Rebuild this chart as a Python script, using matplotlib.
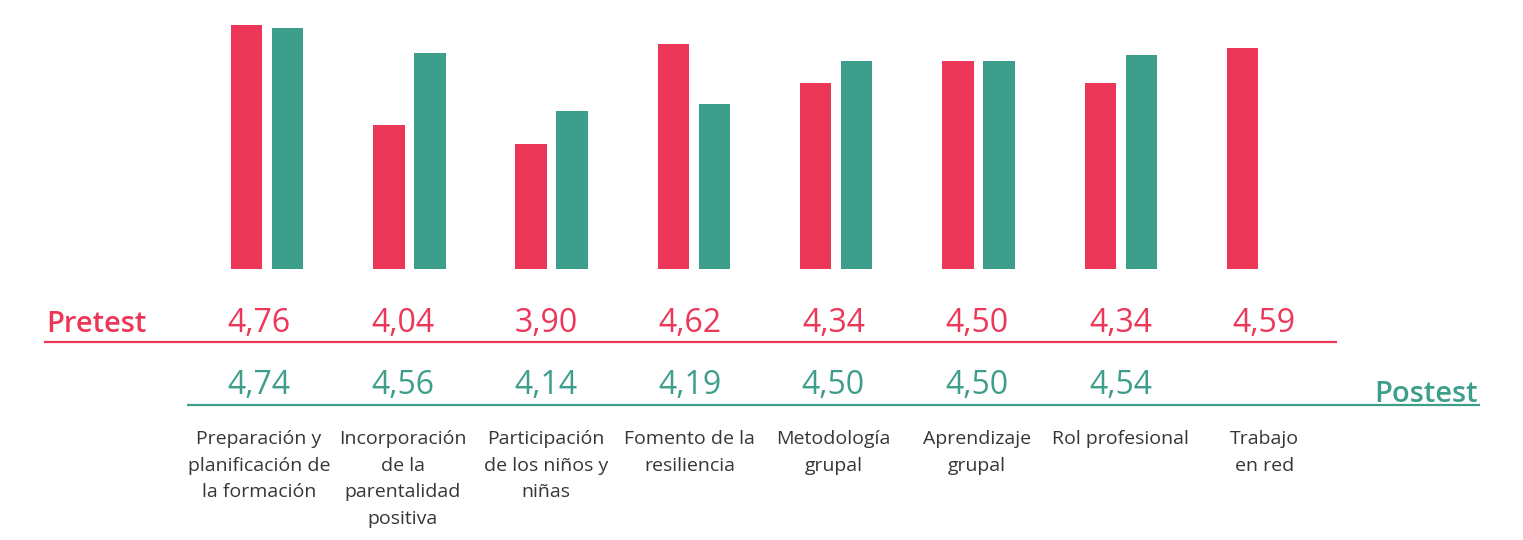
import matplotlib.pyplot as plt

# data
categories = [
    "Preparación y\nplanificación de\nla formación",
    "Incorporación\nde la\nparentalidad\npositiva",
    "Participación\nde los niños y\nniñas",
    "Fomento de la\nresiliencia",
    "Metodología\ngrupal",
    "Aprendizaje\ngrupal",
    "Rol profesional",
    "Trabajo\nen red",
]
pretest = [4.76, 4.04, 3.90, 4.62, 4.34, 4.50, 4.34, 4.59]
postest = [4.74, 4.56, 4.14, 4.19, 4.50, 4.50, 4.54, None]

PINK = "#EC3758"
GREEN = "#3E9E8C"
GREY = "#363636"
FONT = "Open Sans"

W, H = 1523, 540
fig = plt.figure(figsize=(W / 100, H / 100), dpi=100)

# bar area (pixels measured from top of the figure)
base_px = 269.3
px_per_unit = 138.9
step_px = 142.3
first_px = 267
ax = fig.add_axes([0, (H - base_px) / H, 1, base_px / H])
ax.set_xlim(-first_px / step_px, (W - first_px) / step_px)
ax.set_ylim(3.0, 3.0 + base_px / px_per_unit)
ax.axis("off")

bw = 31.5 / step_px
off = 20.5 / step_px
for i, (a, b) in enumerate(zip(pretest, postest)):
    ax.bar(i - off, a - 3.0, bw, bottom=3.0, color=PINK)
    if b is not None:
        ax.bar(i + off, b - 3.0, bw, bottom=3.0, color=GREEN)

# table-like area below, in pixel layout coords
lay = fig.add_axes([0, 0, 1, 1])
lay.set_xlim(0, W)
lay.set_ylim(H, 0)
lay.axis("off")
lay.patch.set_alpha(0)

def fmt(v):
    return f"{v:.2f}".replace(".", ",")

label_x0, label_step = 259, 143.6
for i in range(len(categories)):
    x = label_x0 + label_step * i
    lay.text(x, 332, fmt(pretest[i]), color=PINK, fontsize=23, family=FONT,
             ha="center", va="baseline")
    if postest[i] is not None:
        lay.text(x, 393.5, fmt(postest[i]), color=GREEN, fontsize=23, family=FONT,
                 ha="center", va="baseline")
    lay.text(x, 430, categories[i], color=GREY, fontsize=14, family=FONT,
             ha="center", va="top", linespacing=1.62)

lay.plot([44, 1337], [341.5, 341.5], color=PINK, lw=1.6, solid_capstyle="butt")
lay.plot([187, 1480], [405, 405], color=GREEN, lw=1.6, solid_capstyle="butt")

lay.text(46, 332.5, "Pretest", color=PINK, fontsize=21, family=FONT,
         weight="semibold", ha="left", va="baseline")
lay.text(1478, 402.5, "Postest", color=GREEN, fontsize=21, family=FONT,
         weight="semibold", ha="right", va="baseline")

fig.savefig("out.png", dpi=100)
